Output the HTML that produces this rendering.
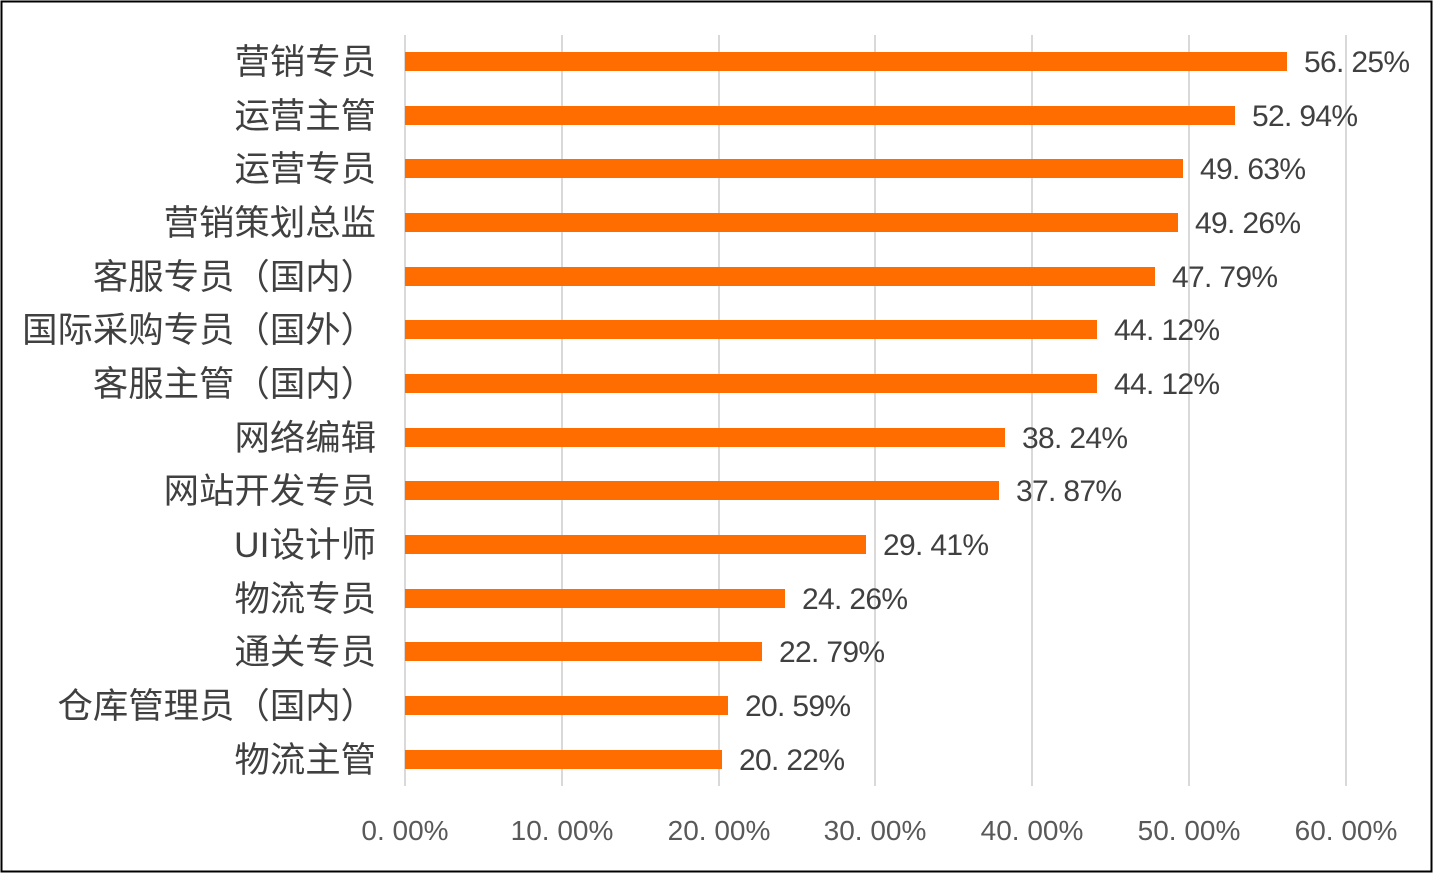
<!DOCTYPE html>
<html><head><meta charset="utf-8"><style>
html,body{margin:0;padding:0;background:#fff;}
svg{display:block;}
text{font-family:"Liberation Sans","Noto Sans CJK SC",sans-serif;}
</style></head><body>
<svg width="1434" height="874" viewBox="0 0 1434 874">
<rect x="1.5" y="1.5" width="1430" height="870" fill="#fff" stroke="#000" stroke-width="2"/>
<g stroke="#d9d9d9" stroke-width="2">
<line x1="405" y1="35" x2="405" y2="786"/>
<line x1="562" y1="35" x2="562" y2="786"/>
<line x1="719" y1="35" x2="719" y2="786"/>
<line x1="875" y1="35" x2="875" y2="786"/>
<line x1="1032" y1="35" x2="1032" y2="786"/>
<line x1="1189" y1="35" x2="1189" y2="786"/>
<line x1="1346" y1="35" x2="1346" y2="786"/>
</g>
<g fill="#595959" font-size="28" text-anchor="middle">
<text x="405" y="840">0. 00%</text>
<text x="562" y="840">10. 00%</text>
<text x="719" y="840">20. 00%</text>
<text x="875" y="840">30. 00%</text>
<text x="1032" y="840">40. 00%</text>
<text x="1189" y="840">50. 00%</text>
<text x="1346" y="840">60. 00%</text>
</g>
<g fill="#ff6d00">
<rect x="405" y="52" width="882" height="19"/>
<rect x="405" y="106" width="830" height="19"/>
<rect x="405" y="159" width="778" height="19"/>
<rect x="405" y="213" width="773" height="19"/>
<rect x="405" y="267" width="750" height="19"/>
<rect x="405" y="320" width="692" height="19"/>
<rect x="405" y="374" width="692" height="19"/>
<rect x="405" y="428" width="600" height="19"/>
<rect x="405" y="481" width="594" height="19"/>
<rect x="405" y="535" width="461" height="19"/>
<rect x="405" y="589" width="380" height="19"/>
<rect x="405" y="642" width="357" height="19"/>
<rect x="405" y="696" width="323" height="19"/>
<rect x="405" y="750" width="317" height="19"/>
</g>
<g fill="#404040" font-size="30">
<text x="1304" y="72" textLength="106">56. 25%</text>
<text x="1252" y="126" textLength="106">52. 94%</text>
<text x="1200" y="179" textLength="106">49. 63%</text>
<text x="1195" y="233" textLength="106">49. 26%</text>
<text x="1172" y="287" textLength="106">47. 79%</text>
<text x="1114" y="340" textLength="106">44. 12%</text>
<text x="1114" y="394" textLength="106">44. 12%</text>
<text x="1022" y="448" textLength="106">38. 24%</text>
<text x="1016" y="501" textLength="106">37. 87%</text>
<text x="883" y="555" textLength="106">29. 41%</text>
<text x="802" y="609" textLength="106">24. 26%</text>
<text x="779" y="662" textLength="106">22. 79%</text>
<text x="745" y="716" textLength="106">20. 59%</text>
<text x="739" y="770" textLength="106">20. 22%</text>
</g>
<g fill="#404040" font-size="35.4" text-anchor="end">
<text x="376" y="74">营销专员</text>
<text x="376" y="128">运营主管</text>
<text x="376" y="181">运营专员</text>
<text x="376" y="235">营销策划总监</text>
<text x="376" y="289">客服专员（国内）</text>
<text x="376" y="342">国际采购专员（国外）</text>
<text x="376" y="396">客服主管（国内）</text>
<text x="376" y="450">网络编辑</text>
<text x="376" y="503">网站开发专员</text>
<text x="376" y="557" textLength="142">UI设计师</text>
<text x="376" y="611">物流专员</text>
<text x="376" y="664">通关专员</text>
<text x="376" y="718">仓库管理员（国内）</text>
<text x="376" y="772">物流主管</text>
</g>
</svg>
</body></html>
